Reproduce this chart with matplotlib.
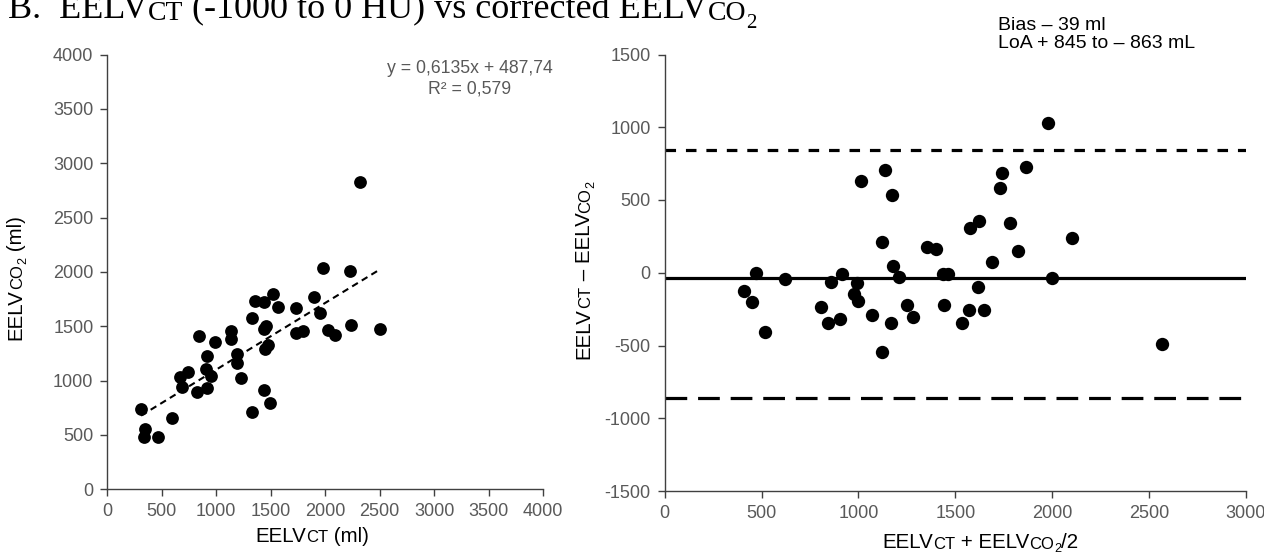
import matplotlib
matplotlib.use('Agg')  # noqa

import matplotlib.pyplot as plt  # noqa
from matplotlib.text import Annotation  # noqa
from matplotlib.transforms import Bbox  # noqa

# EELV by CT (x) against corrected EELV by CO2 washout (y), ml
ct_vol = [310, 344, 341, 467, 596, 664, 744, 688, 826, 842, 906, 949, 912,
          919, 989, 1134, 1140, 1195, 1195, 1226, 1333, 1327, 1358, 1441,
          1518, 1570, 1441, 1460, 1472, 1450, 1441, 1496, 1733, 1733, 1800,
          1901, 1957, 1978, 2025, 2086, 2224, 2233, 2501, 2323]
co2_vol = [737, 558, 484, 484, 654, 1034, 1077, 938, 898, 1407, 1108, 1040,
           932, 1231, 1352, 1454, 1380, 1241, 1164, 1025, 1574, 707, 1731,
           1719, 1796, 1682, 1472, 1500, 1324, 1287, 917, 793, 1667, 1435,
           1457, 1768, 1626, 2034, 1466, 1417, 2006, 1512, 1478, 2830]
fit_slope = 0.6135
fit_icpt = 487.74
fit_r2 = 0.579

# Bland-Altman: mean of methods (x) vs difference (y)
ba_mean = [409, 449, 471, 518, 621, 805, 844, 858, 906, 916, 991, 977, 999,
           1012, 1068, 1120, 1137, 1120, 1166, 1171, 1177, 1211, 1249, 1283,
           1355, 1400, 1438, 1464, 1441, 1980, 1863, 1739, 1732, 1622, 1576,
           1782, 2104, 1825, 1691, 1997, 1615, 1572, 1648, 1536, 2565]
ba_diff = [-124, -201, 0, -408, -45, -238, -348, -64, -318, -9, -73, -148,
           -192, 630, -291, 213, 706, -543, -348, 532, 48, -32, -222, -302,
           175, 163, -9, -9, -224, 1027, 729, 683, 584, 355, 309, 344, 236,
           149, 76, -34, -96, -256, -256, -348, -488]
bias = -39
loa_hi = 845
loa_lo = -863

left_ticks = list(range(0, 4001, 500))
right_xticks = list(range(0, 3001, 500))
right_yticks = list(range(-1500, 1501, 500))

SANS = 'Liberation Sans'
SERIF = 'Liberation Serif'
AXIS_COL = '#404040'
TICK_COL = '#595959'

plt.rcParams['font.family'] = [SANS, 'DejaVu Sans']
plt.rcParams['axes.unicode_minus'] = False

W, H = 1264, 556
fig = plt.figure(figsize=(W / 100, H / 100), dpi=100)


def px_box(x0, x1, y_bot, y_top):
    return [x0 / W, 1 - y_bot / H, (x1 - x0) / W, (y_bot - y_top) / H]


def style_axes(ax):
    for side in ('top', 'right'):
        ax.spines[side].set_visible(False)
    for side in ('left', 'bottom'):
        ax.spines[side].set_color(AXIS_COL)
        ax.spines[side].set_linewidth(1.0)
    ax.tick_params(direction='out', length=5, width=1.0, color=AXIS_COL,
                   labelcolor=TICK_COL, labelsize=13, pad=5)


def rich_text(fig, center, parts, rotation=0, family=SANS, color='black'):
    """Chain text pieces of different sizes (small caps, subscripts)."""
    vertical = rotation == 90
    texts = []
    for text, size, shift in parts:
        if not texts:
            t = fig.text(0, 0, text, fontsize=size, rotation=rotation,
                         ha='right' if vertical else 'left', va='bottom',
                         family=family, color=color)
        else:
            first, prev = texts[0], texts[-1]
            if vertical:
                t = Annotation(text, xy=(1, 1), xycoords=(first, prev),
                               xytext=(-shift, 0), textcoords='offset points',
                               ha='right', va='bottom', rotation=90,
                               fontsize=size, family=family, color=color)
            else:
                t = Annotation(text, xy=(1, 0), xycoords=(prev, first),
                               xytext=(0, shift), textcoords='offset points',
                               ha='left', va='bottom',
                               fontsize=size, family=family, color=color)
            fig.add_artist(t)
        texts.append(t)
    return texts, center


def comma(v, nd):
    return f'{v:.{nd}f}'.replace('.', ',')


# left panel: regression
ax1 = fig.add_axes(px_box(107.3, 543, 489.3, 54.6))
style_axes(ax1)
ax1.plot(ct_vol, co2_vol, 'o', color='black', markersize=9.2,
         markeredgewidth=0, zorder=3)
xs = [min(ct_vol), max(ct_vol)]
ax1.plot(xs, [fit_slope * x + fit_icpt for x in xs], color='black', lw=1.5,
         linestyle=(0, (3.2, 2.2)), zorder=2)
ax1.set_xlim(0, 4000)
ax1.set_ylim(0, 4000)
ax1.set_xticks(left_ticks)
ax1.set_yticks(left_ticks)
ax1.text(0.832, 0.969, f'y = {comma(fit_slope, 4)}x + {comma(fit_icpt, 2)}',
         transform=ax1.transAxes, ha='center', va='center', fontsize=12.7,
         color=TICK_COL)
ax1.text(0.832, 0.921, f'R² = {comma(fit_r2, 3)}',
         transform=ax1.transAxes, ha='center', va='center', fontsize=12.7,
         color=TICK_COL)

# right panel: Bland-Altman
ax2 = fig.add_axes(px_box(664.7, 1246, 491, 54.5))
style_axes(ax2)
ax2.plot(ba_mean, ba_diff, 'o', color='black', markersize=9.6,
         markeredgewidth=0, zorder=3, clip_on=False)
ax2.axhline(bias, color='black', lw=2.3, zorder=2)
ax2.axhline(loa_hi, color='black', lw=2.3, linestyle=(0, (3.3, 3.1)))
ax2.axhline(loa_lo, color='black', lw=2.3, linestyle=(0, (6.8, 3.4)))
ax2.set_xlim(0, 3000)
ax2.set_ylim(-1500, 1500)
ax2.set_xticks(right_xticks)
ax2.set_yticks(right_yticks)
fig.text(998 / W, 1 - 25 / H, f'Bias – {abs(bias)} ml', fontsize=14,
         ha='left', va='center')
fig.text(998 / W, 1 - 43 / H,
         f'LoA + {loa_hi} to – {abs(loa_lo)} mL', fontsize=14,
         ha='left', va='center')

BIG, SC, SUB = 14.8, 12, 9
labels = [
    rich_text(fig, (312, 536), [('EELV', BIG, 0), ('CT', SC, 0),
                                (' (ml)', BIG, 0)]),
    rich_text(fig, (18, 278), [('EELV', BIG, 0), ('CO', SC, 0),
                               ('2', SUB, -2.8), (' (ml)', BIG, 0)],
              rotation=90),
    rich_text(fig, (586, 270), [('EELV', BIG, 0), ('CT', SC, 0),
                                (' – EELV', BIG, 0), ('CO', SC, 0),
                                ('2', SUB, -2.8)], rotation=90),
    rich_text(fig, (980, 544), [('EELV', BIG, 0), ('CT', SC, 0),
                                (' + EELV', BIG, 0), ('CO', SC, 0),
                                ('2', SUB, -2.8), ('/2', BIG, 0)]),
    rich_text(fig, (382, 13), [('B.  EELV', 26, 0), ('CT', 20, 0),
                               (' (-1000 to 0 HU) vs corrected EELV', 26, 0),
                               ('CO', 20, 0), ('2', 15, -5)],
              family=SERIF),
]

# centre each chained label on its target point (pixels from top-left)
fig.canvas.draw()
renderer = fig.canvas.get_renderer()
for texts, (cx, cy) in labels:
    bb = Bbox.union([t.get_window_extent(renderer) for t in texts])
    dx = cx - (bb.x0 + bb.x1) / 2
    dy = (H - cy) - (bb.y0 + bb.y1) / 2
    x0, y0 = texts[0].get_position()
    texts[0].set_position((x0 + dx / W, y0 + dy / H))

fig.savefig('out.png', dpi=100)
